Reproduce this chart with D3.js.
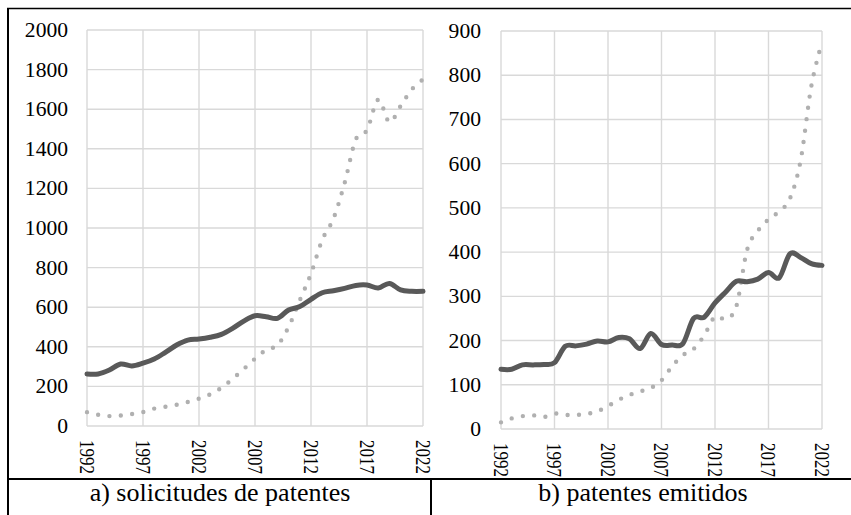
<!DOCTYPE html>
<html>
<head>
<meta charset="utf-8">
<script src="https://cdn.jsdelivr.net/npm/d3@7"></script>
<style>
  html, body { margin: 0; padding: 0; background: #fff; }
  svg { display: block; }
  text { font-family: "Liberation Serif", "Times New Roman", serif; fill: #000; }
</style>
</head>
<body>
<div id="chart"></div>
<script>
// Years on the category axis
const years = d3.range(1992, 2023);
const yearTicks = [1992, 1997, 2002, 2007, 2012, 2017, 2022];

// a) solicitudes de patentes
const solicitudesSolid = [263, 263, 283, 313, 303, 317, 338, 372, 409, 434, 439, 448, 463, 493, 530, 557,
  552, 544, 586, 603, 640, 673, 683, 695, 710, 712, 697, 720, 687, 680, 680];
const solicitudesDotted = [70, 57, 50, 53, 60, 70, 88, 97, 107, 121, 138, 160, 193, 238, 288, 340,
  385, 408, 500, 635, 770, 940, 1047, 1227, 1447, 1495, 1648, 1535, 1616, 1700, 1750];
const solicitudesTicks = [0, 200, 400, 600, 800, 1000, 1200, 1400, 1600, 1800, 2000];

// b) patentes emitidos
const emitidosSolid = [135, 135, 145, 145, 146, 150, 187, 188, 192, 199, 197, 207, 204, 182, 216, 191,
  190, 193, 250, 253, 285, 310, 334, 333, 339, 354, 342, 396, 388, 374, 370];
const emitidosDotted = [15, 24, 29, 31, 27, 35, 32, 32, 34, 40, 52, 66, 77, 85, 93, 110,
  142, 167, 181, 212, 254, 249, 278, 405, 448, 474, 492, 521, 607, 775, 875];
const emitidosTicks = [0, 100, 200, 300, 400, 500, 600, 700, 800, 900];

const W = 851, H = 515;

const svg = d3.select("#chart")
  .append("svg")
  .attr("width", W)
  .attr("height", H);

function drawPanel(opt) {
  const x = d3.scaleLinear().domain([1992, 2022]).range(opt.xRange);
  const y = d3.scaleLinear().domain([0, opt.yMax]).range(opt.yRange);
  const g = svg.append("g");

  // horizontal gridlines
  g.selectAll(".hgrid")
    .data(opt.yTicks)
    .enter().append("line")
    .attr("x1", opt.xRange[0]).attr("x2", opt.xRange[1])
    .attr("y1", d => y(d)).attr("y2", d => y(d))
    .attr("stroke", "#d9d9d9").attr("stroke-width", 1.4);

  // vertical gridlines
  g.selectAll(".vgrid")
    .data(yearTicks)
    .enter().append("line")
    .attr("x1", d => x(d)).attr("x2", d => x(d))
    .attr("y1", opt.yRange[0]).attr("y2", opt.yRange[1])
    .attr("stroke", "#d9d9d9").attr("stroke-width", 1.4);

  // y tick labels
  g.selectAll(".ylab")
    .data(opt.yTicks)
    .enter().append("text")
    .attr("transform", d => `translate(${opt.labelX},${y(d)}) scale(1.08,1)`)
    .attr("dy", "0.35em")
    .attr("text-anchor", "end")
    .style("font-size", "20px")
    .text(d => d);

  // x tick labels, rotated
  g.selectAll(".xlab")
    .data(yearTicks)
    .enter().append("text")
    .attr("transform", d => `translate(${x(d)},${opt.yRange[0] + 14}) scale(1.2,1) rotate(90)`)
    .attr("dy", "0.35em")
    .attr("text-anchor", "start")
    .style("font-size", "17px")
    .text(d => d);

  const line = d3.line()
    .x((d, i) => x(years[i]))
    .y(d => y(d))
    .curve(d3.curveCardinal.tension(0));

  // dotted series
  g.append("path")
    .datum(opt.dotted)
    .attr("d", line)
    .attr("fill", "none")
    .attr("stroke", "#b0b0b0")
    .attr("stroke-width", 4.4)
    .attr("stroke-linecap", "round")
    .attr("stroke-dasharray", "0 11.4");

  // solid series
  g.append("path")
    .datum(opt.solid)
    .attr("d", line)
    .attr("fill", "none")
    .attr("stroke", "#595959")
    .attr("stroke-width", 5)
    .attr("stroke-linejoin", "round")
    .attr("stroke-linecap", "round");

  // caption
  g.append("text")
    .attr("x", opt.captionX)
    .attr("y", 501)
    .attr("text-anchor", "middle")
    .style("font-size", "26px")
    .text(opt.caption);
}

drawPanel({
  xRange: [87, 423], yRange: [426, 30], yMax: 2000,
  yTicks: solicitudesTicks, labelX: 68,
  solid: solicitudesSolid, dotted: solicitudesDotted,
  caption: "a) solicitudes de patentes", captionX: 220
});

drawPanel({
  xRange: [501, 822], yRange: [429, 31], yMax: 900,
  yTicks: emitidosTicks, labelX: 481,
  solid: emitidosSolid, dotted: emitidosDotted,
  caption: "b) patentes emitidos", captionX: 643
});

// table borders
const border = svg.append("g").attr("stroke", "#000");
border.append("line").attr("x1", 7).attr("x2", W).attr("y1", 8.5).attr("y2", 8.5).attr("stroke-width", 1.6);
border.append("line").attr("x1", 8).attr("x2", 8).attr("y1", 8).attr("y2", H).attr("stroke-width", 2);
border.append("line").attr("x1", 7).attr("x2", W).attr("y1", 479).attr("y2", 479).attr("stroke-width", 2);
border.append("line").attr("x1", 431).attr("x2", 431).attr("y1", 479).attr("y2", H).attr("stroke-width", 2);
</script>
</body>
</html>
